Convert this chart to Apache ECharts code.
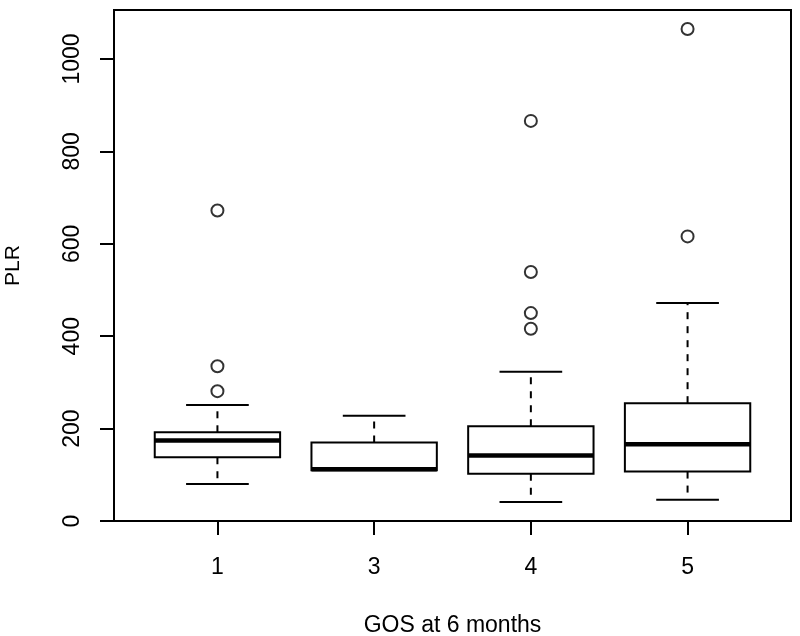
<!DOCTYPE html>
<html><head><meta charset="utf-8">
<script src="https://cdn.jsdelivr.net/npm/echarts@6/dist/echarts.min.js"></script>
<style>html,body{margin:0;padding:0;background:#fff}#c{width:800px;height:636px}</style>
</head><body><div id="c"></div>
<script>
// ---- data ----
const categories = ['1', '3', '4', '5'];
const lowWhisker  = [80, 110, 41, 46];
const q1          = [138, 110, 102, 107];
const median      = [174, 112, 142, 166];
const q3          = [192, 170, 205, 255];
const highWhisker = [251, 228, 323, 472];
const outliers    = [[672, 335, 281], [], [866, 539, 450, 416], [1065, 616]];
const yTicks      = [0, 200, 400, 600, 800, 1000];
const xTicks      = [1, 2, 3, 4];
const xAxisName = 'GOS at 6 months';
const yAxisName = 'PLR';

const boxData = categories.map((c, i) => [i + 1, lowWhisker[i], q1[i], median[i], q3[i], highWhisker[i]]);
const outlierData = [];
outliers.forEach((arr, i) => arr.forEach(v => outlierData.push([i + 1, v])));

const FONT = '"Liberation Sans", Arial, Helvetica, sans-serif';
const chart = echarts.init(document.getElementById('c'), null, {renderer: 'canvas'});

function renderBox(params, api) {
  const x = api.value(0);
  const low = api.value(1), a = api.value(2), med = api.value(3), b = api.value(4), high = api.value(5);
  const cx = api.coord([x, 0])[0];
  const bl = api.coord([x - 0.4, 0])[0], br = api.coord([x + 0.4, 0])[0];
  const sl = api.coord([x - 0.2, 0])[0], sr = api.coord([x + 0.2, 0])[0];
  const yl = api.coord([x, low])[1], ya = api.coord([x, a])[1], ym = api.coord([x, med])[1];
  const yb = api.coord([x, b])[1], yh = api.coord([x, high])[1];
  const solid = {stroke: '#000', lineWidth: 2, fill: null};
  const dashed = {stroke: '#000', lineWidth: 2, lineDash: [7, 7], fill: null};
  const children = [];
  if (yh < yb) {
    children.push({type: 'line', shape: {x1: cx, y1: yb, x2: cx, y2: yh}, style: dashed});
    children.push({type: 'line', shape: {x1: sl, y1: yh, x2: sr, y2: yh}, style: solid});
  }
  if (yl > ya) {
    children.push({type: 'line', shape: {x1: cx, y1: ya, x2: cx, y2: yl}, style: dashed});
    children.push({type: 'line', shape: {x1: sl, y1: yl, x2: sr, y2: yl}, style: solid});
  }
  children.push({type: 'rect', shape: {x: bl, y: yb, width: br - bl, height: ya - yb}, style: {stroke: '#000', lineWidth: 2, fill: '#fff'}});
  children.push({type: 'line', shape: {x1: bl, y1: ym, x2: br, y2: ym}, style: {stroke: '#000', lineWidth: 4.5}});
  return {type: 'group', children};
}

chart.setOption({
  animation: false,
  backgroundColor: '#fff',
  grid: {left: 114, right: 9, top: 10, bottom: 115, containLabel: false, outerBoundsMode: 'none',
    show: true, borderColor: '#000', borderWidth: 2, backgroundColor: 'transparent'},
  xAxis: {
    type: 'value', min: 0.34, max: 4.66,
    name: xAxisName, nameLocation: 'middle', nameGap: 93,
    nameTextStyle: {fontFamily: FONT, fontSize: 23, color: '#000'},
    axisLine: {show: false},
    splitLine: {show: false},
    axisTick: {show: true, customValues: xTicks, length: 14, lineStyle: {color: '#000', width: 2}},
    axisLabel: {customValues: xTicks, margin: 35, fontFamily: FONT, fontSize: 23, color: '#000',
      formatter: v => categories[Math.round(v) - 1]}
  },
  yAxis: {
    type: 'value', min: 0, max: 1106,
    name: yAxisName, nameLocation: 'middle', nameGap: 90, nameRotate: 90,
    nameTextStyle: {fontFamily: FONT, fontSize: 21, color: '#000'},
    axisLine: {show: false},
    splitLine: {show: false},
    axisTick: {show: true, customValues: yTicks, length: 14, lineStyle: {color: '#000', width: 2}},
    axisLabel: {customValues: yTicks, rotate: 90, margin: 30, fontFamily: FONT, fontSize: 23, color: '#000',
      formatter: v => String(v)}
  },
  series: [
    {type: 'custom', renderItem: renderBox, data: boxData, encode: {x: 0, y: [1, 2, 3, 4, 5]}, z: 2},
    {type: 'scatter', data: outlierData, symbol: 'circle', symbolSize: 12,
      itemStyle: {color: '#fff', borderColor: '#000', borderWidth: 2}, z: 3}
  ]
});
</script>
</body></html>
